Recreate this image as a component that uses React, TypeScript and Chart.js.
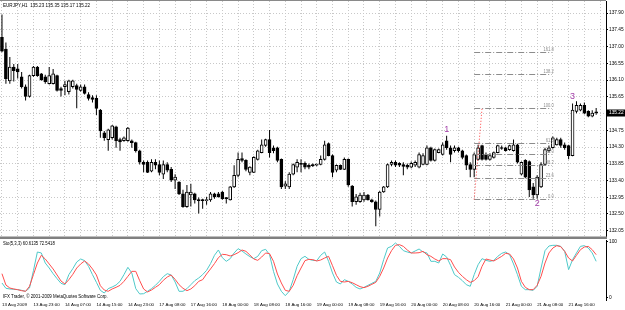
import React, { useEffect, useRef } from 'react';
import { Chart, registerables } from 'chart.js';

Chart.register(...registerables);

// ---------- data ----------
const timeLabels = [
  '13 Aug 2009', '13 Aug 23:00', '14 Aug 07:00', '14 Aug 15:00', '14 Aug 23:00',
  '17 Aug 08:00', '17 Aug 16:00', '18 Aug 00:00', '18 Aug 08:00', '18 Aug 16:00',
  '19 Aug 00:00', '19 Aug 08:00', '19 Aug 16:00', '20 Aug 00:00', '20 Aug 08:00',
  '20 Aug 16:00', '21 Aug 00:00', '21 Aug 08:00', '21 Aug 16:00',
];

const openPrices = [
  137.25, 136.93, 136.08, 136.45, 136.40, 136.19, 135.92, 135.66, 136.22, 136.45,
  136.27, 136.19, 136.00, 136.00, 136.22, 135.87, 135.92, 135.79, 135.92, 135.95,
  135.82, 135.92, 135.71, 135.63, 135.61, 135.29, 134.68, 134.50, 134.55, 134.84,
  134.50, 134.47, 134.47, 134.47, 134.42, 134.20, 133.89, 133.89, 133.65, 133.89,
  133.83, 133.57, 133.83, 133.70, 133.41, 133.36, 133.04, 132.70, 133.01, 133.04,
  132.88, 132.88, 132.86, 132.88, 133.04, 133.04, 133.09, 132.94, 132.88, 133.23,
  133.54, 133.99, 133.94, 133.62, 133.62, 133.97, 134.15, 134.34, 134.50, 134.28,
  134.28, 133.97, 133.25, 133.23, 133.57, 133.76, 133.86, 133.86, 133.81, 133.81,
  133.81, 133.83, 133.97, 134.39, 134.07, 133.68, 133.81, 133.70, 133.97, 133.25,
  132.83, 132.83, 132.88, 133.01, 132.88, 132.83, 132.62, 133.09, 133.23, 133.83,
  133.89, 133.86, 133.83, 133.81, 133.76, 133.81, 133.76, 133.83, 133.83, 134.28,
  133.94, 134.15, 134.10, 134.47, 134.28, 134.20, 134.28, 134.20, 134.07, 133.83,
  133.70, 133.97, 134.34, 134.10, 133.97, 134.02, 134.15, 134.28, 134.28, 134.23,
  134.20, 134.36, 133.57, 133.94, 133.91, 133.23, 133.01, 133.23, 133.83, 134.20,
  134.28, 134.36, 134.50, 134.36, 134.34, 134.07, 135.26, 135.29, 135.42, 135.26,
  135.13, 135.23,
];

const highPrices = [
  137.86, 137.11, 136.72, 136.53, 136.53, 136.32, 135.98, 136.24, 136.48, 136.48,
  136.29, 136.24, 136.45, 136.40, 136.24, 135.92, 136.08, 136.11, 136.11, 136.00,
  135.98, 135.98, 135.77, 135.69, 135.69, 135.32, 134.73, 134.79, 134.89, 134.87,
  134.55, 134.58, 134.84, 134.50, 134.44, 134.23, 133.94, 133.94, 133.97, 133.97,
  133.94, 133.94, 133.89, 133.76, 133.57, 133.38, 133.15, 133.28, 133.31, 133.07,
  132.94, 132.91, 132.96, 133.09, 133.07, 133.09, 133.12, 132.96, 133.25, 133.81,
  134.15, 134.15, 133.97, 133.78, 134.05, 134.23, 134.50, 134.52, 134.76, 134.34,
  134.31, 133.99, 133.38, 133.62, 133.86, 133.97, 133.97, 133.91, 133.86, 133.86,
  133.86, 134.07, 134.47, 134.42, 134.10, 133.83, 133.83, 134.02, 133.99, 133.28,
  133.04, 133.07, 133.09, 133.04, 132.91, 132.86, 133.12, 133.25, 133.86, 133.94,
  133.94, 133.89, 133.89, 133.86, 133.91, 133.94, 134.15, 134.13, 134.34, 134.31,
  134.26, 134.26, 134.42, 134.60, 134.34, 134.34, 134.31, 134.23, 134.10, 133.89,
  134.15, 134.36, 134.36, 134.15, 134.13, 134.18, 134.36, 134.34, 134.31, 134.36,
  134.50, 134.39, 133.91, 133.97, 133.94, 133.33, 133.54, 133.89, 134.28, 134.34,
  134.58, 134.55, 134.55, 134.42, 134.36, 135.47, 135.53, 135.47, 135.50, 135.29,
  135.29, 135.35,
];

const lowPrices = [
  136.85, 136.00, 136.00, 136.06, 136.14, 135.87, 135.55, 135.63, 136.19, 136.19,
  136.08, 136.00, 135.98, 135.98, 135.79, 135.66, 135.69, 135.71, 135.87, 135.34,
  135.79, 135.71, 135.55, 135.50, 135.16, 134.55, 134.47, 134.20, 134.50, 134.28,
  134.20, 134.44, 134.44, 134.28, 134.15, 133.83, 133.62, 133.60, 133.62, 133.70,
  133.54, 133.44, 133.62, 133.36, 133.17, 133.01, 132.67, 132.67, 132.70, 132.78,
  132.51, 132.64, 132.75, 132.83, 132.91, 132.94, 132.88, 132.78, 132.86, 133.20,
  133.49, 133.89, 133.65, 133.54, 133.60, 133.94, 134.13, 134.31, 134.02, 134.13,
  133.89, 133.17, 133.17, 133.17, 133.54, 133.62, 133.62, 133.70, 133.70, 133.76,
  133.78, 133.81, 133.94, 134.05, 133.49, 133.62, 133.68, 133.68, 133.23, 132.70,
  132.75, 132.80, 132.83, 132.86, 132.80, 132.17, 132.43, 133.07, 133.20, 133.78,
  133.76, 133.76, 133.54, 133.70, 133.73, 133.76, 133.73, 133.81, 133.81, 133.91,
  133.91, 134.13, 134.07, 134.23, 133.89, 134.15, 134.15, 133.97, 133.68, 133.49,
  133.49, 133.94, 133.94, 133.94, 133.94, 133.99, 134.13, 134.23, 134.18, 134.20,
  134.18, 133.86, 133.54, 133.46, 132.96, 132.91, 132.91, 133.20, 133.81, 134.15,
  134.26, 134.34, 134.28, 134.23, 133.97, 134.05, 135.21, 135.26, 135.18, 135.10,
  135.10, 135.17,
];

const closePrices = [
  136.88, 136.14, 136.45, 136.35, 136.32, 135.92, 135.66, 136.22, 136.45, 136.22,
  136.11, 136.06, 136.22, 136.27, 135.82, 135.82, 135.98, 136.08, 136.08, 135.85,
  135.92, 135.74, 135.61, 135.58, 135.34, 134.73, 134.55, 134.76, 134.87, 134.47,
  134.44, 134.55, 134.81, 134.42, 134.20, 133.89, 133.83, 133.62, 133.89, 133.81,
  133.62, 133.83, 133.68, 133.41, 133.49, 133.04, 132.70, 133.09, 133.09, 132.88,
  132.86, 132.86, 132.88, 133.04, 132.96, 132.96, 132.91, 132.91, 133.23, 133.54,
  133.97, 133.94, 133.70, 133.76, 134.02, 134.20, 134.36, 134.50, 134.15, 134.20,
  133.94, 133.23, 133.31, 133.57, 133.83, 133.89, 133.83, 133.76, 133.76, 133.80,
  133.83, 133.97, 134.36, 134.07, 133.62, 133.81, 133.70, 133.97, 133.28, 132.83,
  132.96, 133.01, 133.01, 132.88, 132.83, 132.62, 133.09, 133.23, 133.83, 133.89,
  133.81, 133.81, 133.78, 133.76, 133.86, 133.89, 134.10, 134.07, 134.28, 133.94,
  134.23, 134.23, 134.36, 134.28, 134.10, 134.28, 134.20, 134.02, 133.81, 133.70,
  134.10, 134.28, 133.97, 133.97, 134.07, 134.15, 134.34, 134.26, 134.20, 134.34,
  134.36, 133.89, 133.89, 133.49, 133.15, 133.01, 133.49, 133.83, 134.23, 134.28,
  134.55, 134.50, 134.34, 134.28, 134.07, 135.29, 135.42, 135.42, 135.21, 135.13,
  135.21, 135.22,
];

const stochMain = [
  26.5, 17.1, 15.9, 15.3, 14.7, 13.5, 11.8, 17.6, 48.2, 81.1,
  79.4, 61.7, 52.9, 42.9, 34.1, 25.9, 23.5, 41.2, 51.7, 63.5,
  68.8, 65.9, 55.9, 41.2, 27.6, 13.5, 8.8, 16.5, 19.4, 22.9,
  29.4, 41.2, 54.1, 44.1, 16.5, 7.1, 7.6, 11.8, 16.5, 22.3,
  29.4, 37.6, 42.9, 40.6, 28.2, 11.8, 11.8, 16.5, 23.5, 30.6,
  35.3, 41.2, 48.8, 60.6, 75.3, 84.7, 71.1, 64.7, 69.4, 79.4,
  87.0, 82.9, 77.6, 72.9, 69.4, 73.5, 83.5, 85.8, 76.4, 47.0,
  24.7, 11.8, 4.1, 11.8, 32.3, 55.9, 69.4, 73.5, 68.2, 66.4,
  65.9, 75.3, 81.1, 64.7, 44.1, 28.2, 24.7, 32.3, 29.4, 24.7,
  18.8, 15.9, 18.8, 22.3, 25.9, 29.4, 44.1, 67.6, 88.2, 91.1,
  97.0, 91.1, 83.5, 81.1, 79.4, 82.9, 86.4, 81.1, 79.4, 64.7,
  64.7, 61.7, 77.6, 72.3, 57.6, 41.2, 36.5, 30.6, 23.5, 20.6,
  41.2, 58.8, 69.4, 66.4, 64.7, 66.4, 73.5, 78.8, 81.1, 76.4,
  60.0, 41.2, 20.6, 14.7, 14.7, 13.5, 20.6, 52.9, 83.5, 91.7,
  92.9, 92.9, 91.1, 82.3, 50.0, 67.6, 79.4, 91.1, 92.3, 88.2,
  79.4, 64.7,
];

const stochSignal = [
  42.9, 22.9, 17.6, 15.9, 14.7, 12.9, 11.8, 20.6, 41.2, 61.7,
  75.3, 68.8, 60.0, 51.2, 40.6, 30.0, 24.7, 32.3, 41.7, 52.9,
  60.0, 65.3, 60.0, 51.2, 40.6, 21.7, 14.1, 11.8, 15.9, 18.8,
  22.3, 29.4, 38.2, 47.0, 47.0, 30.6, 15.9, 10.6, 14.1, 18.8,
  23.5, 31.2, 37.0, 40.6, 32.9, 23.5, 17.1, 12.9, 15.9, 21.7,
  29.4, 32.3, 42.3, 51.2, 60.6, 71.1, 77.0, 76.4, 74.1, 76.4,
  79.9, 84.7, 82.3, 75.8, 68.8, 66.4, 72.3, 79.4, 78.2, 64.7,
  42.3, 26.5, 13.5, 11.8, 22.3, 39.4, 52.9, 65.9, 68.2, 67.6,
  65.3, 67.0, 70.5, 73.5, 57.0, 40.0, 29.4, 28.2, 29.4, 27.0,
  23.5, 20.0, 18.2, 20.6, 24.1, 27.6, 38.2, 52.9, 70.5, 83.5,
  92.9, 94.1, 91.1, 84.7, 79.4, 79.4, 79.9, 82.3, 76.4, 73.5,
  68.8, 65.3, 69.4, 69.4, 67.6, 54.7, 45.3, 38.2, 32.3, 27.6,
  30.6, 37.6, 55.9, 68.8, 67.0, 65.3, 69.4, 73.5, 78.8, 77.6,
  68.8, 52.9, 29.4, 18.8, 14.7, 14.7, 22.3, 38.2, 61.7, 79.4,
  88.2, 92.3, 90.5, 82.3, 70.5, 65.3, 75.3, 85.2, 89.9, 91.1,
  85.2, 76.4,
];

const priceTicks = [
  137.90, 137.45, 137.00, 136.55, 136.10, 135.65, 135.20,
  134.75, 134.30, 133.85, 133.40, 132.95, 132.50, 132.05,
];
const hiddenPriceTick = 135.20;
const stochTicks = [0, 100];

const fibLevels = [0, 23.6, 38.2, 50, 61.8, 100, 138.2, 161.8];
const fibLow = 132.89;
const fibHigh = 135.34;
const fibStartBar = 120;
const fibEndBar = 139.7;
const trendFromBar = 120;
const trendToBar = 122;

const waveLabels = [
  { text: '1', bar: 113, price: 134.77 },
  { text: '2', bar: 136, price: 132.78 },
  { text: '3', bar: 145, price: 135.66 },
];

const symbolTitle = 'EURJPY,H1  135.23 135.35 135.17 135.22';
const stochTitle = 'Sto(5,3,3) 60.6135 72.5418';
const copyright = 'IFX Trader, \u00A9 2001-2009 MetaQuotes Software Corp.';
const lastPrice = 135.22;

// ---------- layout / style ----------
const SLOT_COUNT = 154;
const slots = Array.from({ length: SLOT_COUNT }, (_, i) => String(i));
const FONT = "'Liberation Sans', Arial, sans-serif";
const GRID = '#c8c8c8';
const FIB = '#8c8c8c';
const CYAN = '#4fc9c9';
const RED = '#ff4d4d';
const WAVE = '#a23fa8';

const zeroPad = (s: any) => {
  s.paddingTop = 0;
  s.paddingBottom = 0;
  s.paddingLeft = 0;
  s.paddingRight = 0;
};

// narrow-looking text: a normal font squeezed horizontally
const narrowText = (
  ctx: CanvasRenderingContext2D,
  text: string,
  x: number,
  y: number,
  size: number,
  color: string,
  align: CanvasTextAlign = 'left',
  baseline: CanvasTextBaseline = 'middle',
) => {
  ctx.save();
  ctx.translate(x, y);
  ctx.scale(0.82, 1);
  ctx.fillStyle = color;
  ctx.font = `${size}px ${FONT}`;
  ctx.textAlign = align;
  ctx.textBaseline = baseline;
  ctx.fillText(text, 0, 0);
  ctx.restore();
};

export default function App() {
  const mainRef = useRef<HTMLCanvasElement>(null);
  const stoRef = useRef<HTMLCanvasElement>(null);

  useEffect(() => {
    const bodies = openPrices.map((o, i) => [o, closePrices[i]]);
    const wicks = lowPrices.map((l, i) => [l, highPrices[i]]);
    const bodyColors = openPrices.map((o, i) => (closePrices[i] >= o ? '#ffffff' : '#000000'));

    const mainOverlay = {
      id: 'mainOverlay',
      afterDatasetsDraw(chart: any) {
        const ctx = chart.ctx as CanvasRenderingContext2D;
        const xs = chart.scales.x;
        const ys = chart.scales.y;
        ctx.save();
        const x1 = xs.getPixelForValue(fibStartBar);
        const x2 = xs.getPixelForValue(fibEndBar);
        fibLevels.forEach((lvl) => {
          const price = fibLow + ((fibHigh - fibLow) * lvl) / 100;
          const y = Math.round(ys.getPixelForValue(price)) + 0.5;
          ctx.strokeStyle = FIB;
          ctx.lineWidth = 1;
          ctx.setLineDash([6, 2, 1, 2]);
          ctx.beginPath();
          ctx.moveTo(x1, y);
          ctx.lineTo(x2, y);
          ctx.stroke();
          ctx.setLineDash([]);
          narrowText(ctx, lvl.toFixed(1), x2 + 2, y - 0.5, 5, FIB, 'right', 'bottom');
        });
        ctx.strokeStyle = '#ff3b3b';
        ctx.setLineDash([1, 2]);
        ctx.beginPath();
        ctx.moveTo(xs.getPixelForValue(trendFromBar), ys.getPixelForValue(fibLow));
        ctx.lineTo(xs.getPixelForValue(trendToBar), ys.getPixelForValue(fibHigh));
        ctx.stroke();
        ctx.setLineDash([]);
        ctx.fillStyle = WAVE;
        ctx.font = `9px ${FONT}`;
        ctx.textAlign = 'center';
        ctx.textBaseline = 'middle';
        waveLabels.forEach((w) => {
          ctx.fillText(w.text, xs.getPixelForValue(w.bar), ys.getPixelForValue(w.price));
        });
        ctx.restore();
      },
      afterDraw(chart: any) {
        const ctx = chart.ctx as CanvasRenderingContext2D;
        const ys = chart.scales.y;
        const area = chart.chartArea;
        ctx.save();
        ctx.strokeStyle = '#8a8a8a';
        ctx.lineWidth = 1;
        ctx.beginPath();
        ctx.moveTo(0, 0.5);
        ctx.lineTo(area.right, 0.5);
        ctx.stroke();
        narrowText(ctx, symbolTitle, 3, 5.5, 5.6, '#000');
        const py = ys.getPixelForValue(lastPrice);
        ctx.fillStyle = '#000';
        ctx.fillRect(area.right + 1, Math.round(py) - 3.5, 18, 7);
        ctx.fillStyle = '#fff';
        ctx.font = `4.8px ${FONT}`;
        ctx.textAlign = 'left';
        ctx.textBaseline = 'middle';
        ctx.fillText(lastPrice.toFixed(2), area.right + 3, py);
        ctx.restore();
      },
    };

    const main = new Chart(mainRef.current as HTMLCanvasElement, {
      type: 'bar',
      data: {
        labels: slots,
        datasets: [
          {
            data: bodies as any,
            backgroundColor: bodyColors,
            borderColor: '#000',
            borderWidth: 1,
            borderSkipped: false,
            barThickness: 3,
            minBarLength: 1,
            grouped: false,
            order: 1,
          } as any,
          {
            data: wicks as any,
            backgroundColor: '#000',
            borderWidth: 0,
            barThickness: 1,
            inflateAmount: 0,
            grouped: false,
            order: 2,
          } as any,
        ],
      },
      options: {
        responsive: false,
        animation: false,
        layout: { padding: { top: 1, bottom: 4, left: 0, right: 0 } },
        plugins: { legend: { display: false }, tooltip: { enabled: false } },
        scales: {
          x: {
            type: 'category',
            offset: true,
            grid: {
              offset: false,
              drawTicks: false,
              lineWidth: 1,
              color: (c: any) => (c.index % 4 === 0 ? GRID : 'rgba(0,0,0,0)'),
            },
            border: { display: false, dash: [1, 2] },
            ticks: { display: false, autoSkip: false, maxRotation: 0 },
            afterFit: (s: any) => {
              s.height = 0;
              zeroPad(s);
            },
          },
          y: {
            position: 'right',
            min: 131.9084,
            max: 138.2254,
            afterBuildTicks: (s: any) => {
              s.ticks = priceTicks.map((v) => ({ value: v }));
            },
            ticks: {
              autoSkip: false,
              color: '#000',
              padding: 1,
              font: { family: FONT, size: 4.8 },
              callback: (v: any) =>
                Math.abs(Number(v) - hiddenPriceTick) < 1e-6 ? '' : Number(v).toFixed(2),
            },
            grid: { color: GRID, tickColor: '#000', tickLength: 2, lineWidth: 1 },
            border: { display: true, color: '#000', width: 1, dash: [1, 2] },
            afterFit: (s: any) => {
              s.width = 19;
              zeroPad(s);
            },
          },
        },
      },
      plugins: [mainOverlay],
    });

    const stoOverlay = {
      id: 'stoOverlay',
      beforeDraw(chart: any) {
        const ctx = chart.ctx as CanvasRenderingContext2D;
        ctx.save();
        ctx.fillStyle = '#808080';
        ctx.fillRect(0, 0.5, chart.chartArea.right + 1, 2.5);
        ctx.restore();
      },
      afterDraw(chart: any) {
        const ctx = chart.ctx as CanvasRenderingContext2D;
        narrowText(ctx, stochTitle, 3, 7.5, 5.2, '#000');
        narrowText(ctx, copyright, 3, 61, 5.4, '#000');
      },
    };

    const sto = new Chart(stoRef.current as HTMLCanvasElement, {
      type: 'line',
      data: {
        labels: slots,
        datasets: [
          {
            data: stochSignal,
            borderColor: RED,
            borderWidth: 1,
            pointRadius: 0,
            tension: 0,
            order: 1,
          },
          {
            data: stochMain,
            borderColor: CYAN,
            borderWidth: 1,
            pointRadius: 0,
            tension: 0,
            order: 2,
          },
        ],
      },
      options: {
        responsive: false,
        animation: false,
        layout: { padding: { top: 4, bottom: 0, left: 0, right: 0 } },
        plugins: { legend: { display: false }, tooltip: { enabled: false } },
        scales: {
          x: {
            type: 'category',
            offset: true,
            grid: { display: true, drawOnChartArea: false, drawTicks: false, offset: false },
            border: { display: false },
            ticks: {
              autoSkip: false,
              maxRotation: 0,
              minRotation: 0,
              align: 'start',
              padding: 2,
              color: '#000',
              font: { family: FONT, size: 4.4 },
              callback: (_v: any, i: number) => (i % 8 === 0 ? timeLabels[i / 8] ?? '' : ''),
            },
            afterFit: (s: any) => {
              s.height = 10;
              zeroPad(s);
            },
          },
          y: {
            position: 'right',
            min: -3.53,
            max: 102.29,
            afterBuildTicks: (s: any) => {
              s.ticks = stochTicks.map((v) => ({ value: v }));
            },
            ticks: {
              autoSkip: false,
              color: '#000',
              padding: 1,
              font: { family: FONT, size: 4.8 },
              callback: (v: any) => String(v),
            },
            grid: { drawOnChartArea: false, tickLength: 2, tickColor: '#000' },
            border: { display: true, color: '#000', width: 1 },
            afterFit: (s: any) => {
              s.width = 19;
              zeroPad(s);
            },
          },
        },
      },
      plugins: [stoOverlay],
    });

    return () => {
      main.destroy();
      sto.destroy();
    };
  }, []);

  return (
    <div style={{ position: 'fixed', left: 0, top: 0, width: 625, height: 310, background: '#fff' }}>
      <canvas
        ref={mainRef}
        width={625}
        height={240}
        style={{ position: 'absolute', left: 0, top: 0, width: 625, height: 240 }}
      />
      <canvas
        ref={stoRef}
        width={625}
        height={74}
        style={{ position: 'absolute', left: 0, top: 236, width: 625, height: 74 }}
      />
    </div>
  );
}
